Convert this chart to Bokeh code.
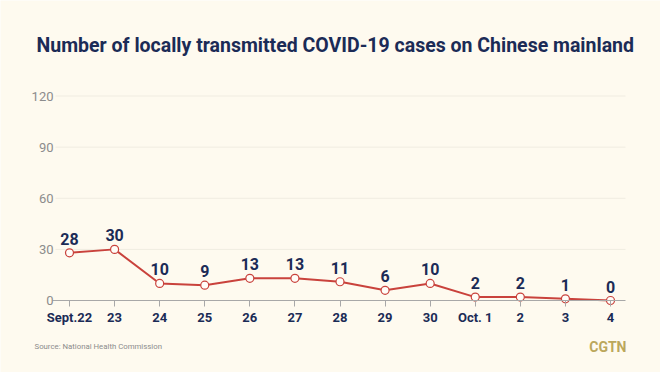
from bokeh.plotting import figure
from bokeh.models import Range1d, FixedTicker, Label, LabelSet, ColumnDataSource
from bokeh.core.properties import value
from bokeh.embed import file_html
from bokeh.resources import INLINE

# ---- data ----
dates = ["Sept.22", "23", "24", "25", "26", "27", "28", "29", "30", "Oct. 1", "2", "3", "4"]
cases = [28, 30, 10, 9, 13, 13, 11, 6, 10, 2, 2, 1, 0]
y_ticks = [0, 30, 60, 90, 120]

title_text = "Number of locally transmitted COVID-19 cases on Chinese mainland"
source_text = "Source: National Health Commission"
brand_text = "CGTN"

BG = "#FEFAEF"
NAVY = "#1B2B56"
RED = "#C9423C"
GREY = "#8C8C8C"

W, H = 660, 372
# plot-area layout (pixels): first category at x=69, last at x=610; y=0 at 300, 120 at 95.5
X0_PX, X_STEP = 69.0, (610.0 - 69.0) / 12
Y0_PX, Y_UNIT = 300.0, (300.0 - 95.5) / 120
x_lo, x_hi = (55 - X0_PX) / X_STEP, (625 - X0_PX) / X_STEP

idx = list(range(len(dates)))
src = ColumnDataSource(dict(x=idx, y=cases, lbl=[str(c) for c in cases]))

p = figure(width=W, height=H, output_backend="svg", toolbar_location=None,
           x_range=Range1d(-X0_PX / X_STEP, (W - X0_PX) / X_STEP),
           y_range=Range1d(-(H - Y0_PX) / Y_UNIT, Y0_PX / Y_UNIT),
           min_border=0)
p.background_fill_color = BG
p.border_fill_color = BG
p.outline_line_color = None
p.xgrid.visible = False
p.ygrid.visible = False

# grid lines limited to the plot area
grid_y = y_ticks[1:]
p.segment(x0=[x_lo] * len(grid_y), x1=[x_hi] * len(grid_y), y0=grid_y, y1=grid_y,
          line_color="#F0ECE1", line_width=1)

# y axis (inside the canvas)
p.yaxis.fixed_location = x_lo
p.yaxis.ticker = FixedTicker(ticks=y_ticks)
p.yaxis.axis_line_color = None
p.yaxis.major_tick_line_color = None
p.yaxis.minor_tick_line_color = None
p.yaxis.major_tick_out = 0
p.yaxis.major_tick_in = 0
p.yaxis.major_label_standoff = 2
p.yaxis.major_label_text_color = GREY
p.yaxis.major_label_text_font = "Roboto"
p.yaxis.major_label_text_font_size = "13px"

# x axis at y=0
p.xaxis.fixed_location = 0
p.xaxis.bounds = ((52 - X0_PX) / X_STEP, x_hi)
p.xaxis.ticker = FixedTicker(ticks=idx)
p.xaxis.major_label_overrides = {i: d for i, d in enumerate(dates)}
p.xaxis.axis_line_color = "#A8A8A8"
p.xaxis.axis_line_width = 1
p.xaxis.major_tick_line_color = "#A8A8A8"
p.xaxis.major_tick_in = 0
p.xaxis.major_tick_out = 6
p.xaxis.minor_tick_line_color = None
p.xaxis.major_label_standoff = 3
p.xaxis.major_label_text_color = NAVY
p.xaxis.major_label_text_font = "Roboto"
p.xaxis.major_label_text_font_style = "bold"
p.xaxis.major_label_text_font_size = "13px"

# line + markers + value labels
p.line("x", "y", source=src, line_color=RED, line_width=2)
p.scatter("x", "y", source=src, size=8, fill_color="#FFFDF8", line_color=RED, line_width=1.2)
p.add_layout(LabelSet(x="x", y="y", text="lbl", source=src, y_offset=8,
                      text_align="center", text_baseline="alphabetic",
                      text_color=NAVY, text_font=value("Roboto"), text_font_style="bold",
                      text_font_size="16px"))

# texts (screen units, y measured upward from the bottom)
p.add_layout(Label(x=36, y=H - 45, x_units="screen", y_units="screen", text=title_text,
                   text_color=NAVY, text_font="Roboto", text_font_style="bold",
                   text_font_size="19.5px", text_baseline="alphabetic"))
p.add_layout(Label(x=34, y=H - 345.5, x_units="screen", y_units="screen", text=source_text,
                   text_color=GREY, text_font="Roboto", text_font_size="7.8px",
                   text_baseline="middle"))
p.add_layout(Label(x=626, y=H - 346, x_units="screen", y_units="screen", text=brand_text,
                   text_color="#BBA75B", text_font="Roboto", text_font_style="bold",
                   text_font_size="14px", text_baseline="middle", text_align="right"))

open("out.html", "w").write(file_html(p, INLINE))
